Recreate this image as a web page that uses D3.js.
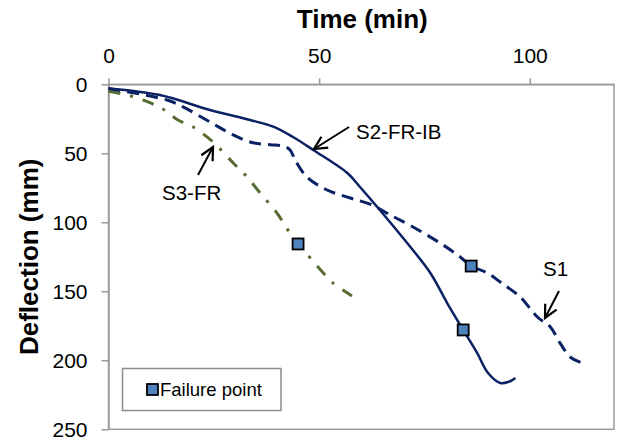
<!DOCTYPE html>
<html>
<head>
<meta charset="utf-8">
<script src="https://cdn.jsdelivr.net/npm/d3@7"></script>
<style>
  html, body { margin: 0; padding: 0; background: #fff; }
  svg { display: block; font-family: "Liberation Sans", Arial, sans-serif; }
</style>
</head>
<body>
<svg id="chart" width="619" height="446"></svg>
<script>
// Mid-span deflection of each specimen against fire exposure time
const s1Time = [0, 13.9, 17.7, 24.1, 29.6, 34.3, 38.4, 41.4, 43.1, 44.3, 47.1, 51.9, 57.4, 62.6, 66.9, 72.3, 78.7, 83.5, 86.1, 89.9, 93.0, 97.7, 101.8, 104.9, 107.2, 109.6, 112.5];
const s1Defl = [3, 11.4, 16.4, 27.3, 36.7, 42.4, 43.8, 44.7, 47.6, 54.9, 67.2, 76.6, 82.4, 87.5, 94.7, 103.4, 115, 125.1, 131.7, 136.7, 143.3, 154.1, 168.6, 175.9, 187.5, 197.6, 202];

const s2Time = [0, 12.2, 24.1, 33.6, 39.1, 43.8, 48.6, 56.7, 59.7, 63.8, 70.9, 76.4, 80.4, 84.2, 87.5, 90.1, 93.0, 94.9, 96.6];
const s2Defl = [3, 7.8, 18.6, 25.9, 30.7, 38.2, 47.6, 64.3, 74.4, 88.9, 115, 136.7, 158.5, 178, 194.7, 209.2, 216.4, 215.7, 212.8];

const s3Time = [0, 5.1, 9.4, 12.9, 16.5, 20.1, 24.8, 29.6, 32.9, 36.0, 40.0, 42.6, 45.0, 47.9, 51.0, 53.3, 57.8];
const s3Defl = [5, 8.3, 12.8, 17.9, 25.9, 31, 41.8, 57, 67.2, 78.8, 93.3, 105.6, 115.7, 125.9, 136.7, 144, 153.4];

// Failure points (time, deflection)
const failTime = [45.0, 86.1, 84.2];
const failDefl = [115.7, 131.7, 178];

const xTicks = [0, 50, 100];
const yTicks = [0, 50, 100, 150, 200, 250];

const svg = d3.select("#chart");
const plot = { left: 108.5, right: 614, top: 84.3, bottom: 429.3 };

const x = d3.scaleLinear().domain([0, 120]).range([plot.left, plot.right]);
const y = d3.scaleLinear().domain([0, 250]).range([plot.top, plot.bottom]);

const navy = "#0a2163";
const olive = "#556b2f";
const axisGrey = "#9a9a9a";

// plot frame
svg.append("rect")
  .attr("x", plot.left).attr("y", plot.top)
  .attr("width", plot.right - plot.left).attr("height", plot.bottom - plot.top)
  .attr("fill", "none").attr("stroke", axisGrey).attr("stroke-width", 1.5);

// axes
const xAxis = svg.append("g")
  .attr("transform", `translate(0,${plot.top})`)
  .call(d3.axisTop(x).tickValues(xTicks).tickSize(6).tickPadding(15).tickSizeOuter(0));
const yAxis = svg.append("g")
  .attr("transform", `translate(${plot.left},0)`)
  .call(d3.axisLeft(y).tickValues(yTicks).tickSize(7).tickPadding(14).tickSizeOuter(0));

[xAxis, yAxis].forEach(g => {
  g.select(".domain").attr("stroke", axisGrey).attr("stroke-width", 1.5);
  g.selectAll(".tick line").attr("stroke", axisGrey).attr("stroke-width", 1.5);
  g.selectAll(".tick text").attr("fill", "#000").style("font-size", "21px")
    .style("font-family", "'Liberation Sans', Arial, sans-serif");
});

// axis titles
svg.append("text")
  .attr("x", (plot.left + plot.right) / 2 + 1).attr("y", 28)
  .attr("text-anchor", "middle")
  .style("font-size", "26px").style("font-weight", "bold")
  .text("Time (min)");
svg.append("text")
  .attr("transform", `translate(38,${(plot.top + plot.bottom) / 2}) rotate(-90)`)
  .attr("text-anchor", "middle")
  .style("font-size", "26px").style("font-weight", "bold")
  .text("Deflection (mm)");

const line = d3.line()
  .x(d => x(d[0])).y(d => y(d[1]))
  .curve(d3.curveCatmullRom.alpha(0.5));

const zip = (a, b) => a.map((v, i) => [v, b[i]]);

// S3-FR: dash-dot
svg.append("path")
  .datum(zip(s3Time, s3Defl))
  .attr("d", line)
  .attr("fill", "none").attr("stroke", olive).attr("stroke-width", 3)
  .attr("stroke-dasharray", "12,10,3,10");

// S1: dashed
svg.append("path")
  .datum(zip(s1Time, s1Defl))
  .attr("d", line)
  .attr("fill", "none").attr("stroke", navy).attr("stroke-width", 3)
  .attr("stroke-dasharray", "12,7");

// S2-FR-IB: solid
svg.append("path")
  .datum(zip(s2Time, s2Defl))
  .attr("d", line)
  .attr("fill", "none").attr("stroke", navy).attr("stroke-width", 2.5);

// failure markers
const mk = 11;
svg.append("g").selectAll("rect")
  .data(zip(failTime, failDefl))
  .join("rect")
  .attr("x", d => x(d[0]) - mk / 2).attr("y", d => y(d[1]) - mk / 2)
  .attr("width", mk).attr("height", mk)
  .attr("fill", "#4f81bd").attr("stroke", "#000").attr("stroke-width", 1.8);

// series labels with arrows
svg.append("defs").append("marker")
  .attr("id", "arrowhead")
  .attr("viewBox", "0 0 10 10").attr("refX", 9).attr("refY", 5)
  .attr("markerWidth", 16).attr("markerHeight", 16)
  .attr("markerUnits", "userSpaceOnUse")
  .attr("orient", "auto")
  .append("path")
  .attr("d", "M1,1 L9,5 L1,9")
  .attr("fill", "none").attr("stroke", "#000").attr("stroke-width", 1.4);

const notes = [
  { label: "S2-FR-IB", tx: 356, ty: 139, from: [349, 127], to: [314, 149] },
  { label: "S3-FR", tx: 162, ty: 200, from: [198, 175], to: [213, 147] },
  { label: "S1", tx: 543, ty: 276, from: [559, 291], to: [545, 318] }
];
notes.forEach(n => {
  svg.append("line")
    .attr("x1", n.from[0]).attr("y1", n.from[1])
    .attr("x2", n.to[0]).attr("y2", n.to[1])
    .attr("stroke", "#000").attr("stroke-width", 2)
    .attr("marker-end", "url(#arrowhead)");
  svg.append("text")
    .attr("x", n.tx).attr("y", n.ty)
    .style("font-size", "20.5px").attr("fill", "#000")
    .text(n.label);
});

// legend
const lg = svg.append("g");
lg.append("rect")
  .attr("x", 122.5).attr("y", 368.5).attr("width", 158.5).attr("height", 42)
  .attr("fill", "#fff").attr("stroke", "#8c8c8c").attr("stroke-width", 1.5);
lg.append("rect")
  .attr("x", 147).attr("y", 384).attr("width", 11).attr("height", 11)
  .attr("fill", "#4f81bd").attr("stroke", "#000").attr("stroke-width", 1.8);
lg.append("text")
  .attr("x", 160).attr("y", 396)
  .style("font-size", "18.5px").attr("fill", "#000")
  .text("Failure point");
</script>
</body>
</html>
